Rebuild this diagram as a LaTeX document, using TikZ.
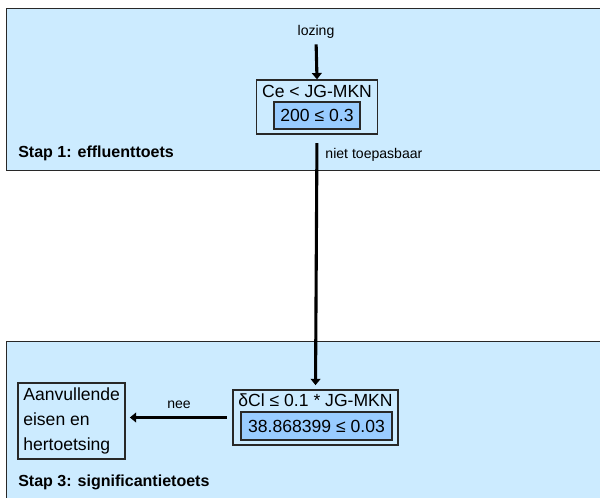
\documentclass[tikz,border=0pt]{standalone}
\usepackage{fontspec}
\setmainfont{Liberation Sans}
\usetikzlibrary{arrows.meta}
\definecolor{panelblue}{RGB}{204,235,255}
\definecolor{valblue}{RGB}{153,204,255}
\definecolor{edgegray}{RGB}{40,40,40}

\tikzset{
  panel/.style={draw=edgegray, line width=0.6pt, fill=panelblue},
  critbox/.style={draw=edgegray, line width=0.9pt, fill=panelblue, inner sep=0pt},
  valbox/.style={draw=edgegray, line width=0.9pt, fill=valblue, inner sep=0pt,
    font=\fontsize{12.5}{14}\selectfont},
  crittext/.style={inner sep=0pt, font=\fontsize{12.5}{14}\selectfont},
  smalltext/.style={inner sep=0pt, font=\fontsize{10}{12}\selectfont},
  steptext/.style={inner sep=0pt, anchor=west, font=\fontsize{11.4}{13}\selectfont\bfseries},
  flow/.style={black, line width=2.2pt, -{Triangle[width=7pt,length=4.5pt]}}
}

\begin{document}
\begin{tikzpicture}[x=0.025cm, y=-0.025cm]
\useasboundingbox (0,0) rectangle (600,498);
\clip (0,0) rectangle (600,498);
% panels
\draw[panel] (6.5,8) rectangle (610,170);
\draw[panel] (6.5,341) rectangle (610,510);
\node[steptext] (step1) at (18,153) {Stap 1: effluenttoets};
\node[steptext] (step3) at (18,482) {Stap 3: significantietoets};

% stap 1
\node[smalltext] (lozing) at (316,32) {lozing};
\node[critbox, minimum width=3.025cm, minimum height=1.35cm] (eff) at (317,107) {};
\node[crittext] (efftxt) at (317,91) {Ce < JG-MKN};
\node[valbox, minimum width=2.15cm, minimum height=0.675cm] (effval) at (317,115.5) {200 ≤ 0.3};

% stap 3
\node[critbox, minimum width=4.125cm, minimum height=1.375cm] (sig) at (315.5,417.5) {};
\node[crittext] (sigtxt) at (315.5,400) {δCl ≤ 0.1 * JG-MKN};
\node[valbox, minimum width=3.775cm, minimum height=0.7cm] (sigval) at (316.5,426) {38.868399 ≤ 0.03};
\node[draw=edgegray, line width=0.9pt, fill=panelblue, minimum width=2.675cm, minimum height=1.9cm,
  inner sep=0pt] (extra) at (71.5,421) {};
\node[crittext, align=left, anchor=west, font=\fontsize{12.5}{17.5}\selectfont] (extratxt) at (23,421)
  {Aanvullende\\eisen en\\hertoetsing};

% pijlen
\draw[flow, shorten <=4pt] (lozing.south) -- (eff.north);
\draw[flow, shorten <=6pt, shorten >=3pt] (eff.south) -- (sig.north)
  node[smalltext, pos=0.08, anchor=west, xshift=5pt] (nt) {niet toepasbaar};
\draw[flow, shorten <=4pt, shorten >=3pt] (sig.west) -- (sig.west -| extra.east)
  node[smalltext, midway, above, yshift=5pt] (nee) {nee};
\end{tikzpicture}
\end{document}
